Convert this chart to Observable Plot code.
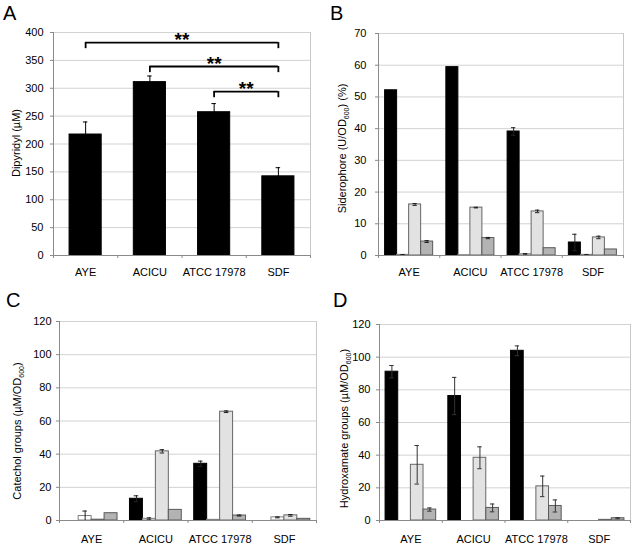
<!DOCTYPE html>
<html>
<head>
<meta charset="utf-8">
<script src="https://cdn.jsdelivr.net/npm/d3@7"></script>
<script src="https://cdn.jsdelivr.net/npm/@observablehq/plot@0.6"></script>
<style>
  body { margin: 0; background: #fff; }
  #fig { position: relative; width: 634px; height: 545px; font-family: "Liberation Sans", Arial, sans-serif; color: #000; }
  .panel { position: absolute; }
  .letter { position: absolute; font-size: 20px; line-height: 1; }
</style>
</head>
<body>
<div id="fig"></div>
<script>
// ---------- data ----------
const categories = ["AYE", "ACICU", "ATCC 17978", "SDF"];
const seriesFill = ["#000000", "#ffffff", "#e2e2e2", "#b3b3b3"];
const seriesStroke = ["#000000", "#808080", "#666666", "#595959"];

// Panel A: dipyridyl
const dipyridyl = [217, 311, 257, 142];
const dipyridylErr = [22.5, 11, 15.5, 15.5];
const dipyridylTicks = [0, 50, 100, 150, 200, 250, 300, 350, 400];
const sigFrom = ["AYE", "ACICU", "ATCC 17978"];
const sigTo = ["SDF", "SDF", "SDF"];
const sigLevel = [382, 339, 294];
const sigLegDrop = 11;
const sigText = ["**", "**", "**"];

// Panel B: siderophore (series x category)
const sideroValues = [
  [52.1, 59.4, 39.1, 4.1],
  [0.2, 0.1, 0.4, 0.2],
  [16.1, 15.1, 13.9, 5.7],
  [4.4, 5.5, 2.3, 1.9]
];
const sideroErrors = [
  [0, 0, 1.2, 2.6],
  [0.1, 0, 0.2, 0.1],
  [0.3, 0.1, 0.4, 0.4],
  [0.3, 0.2, 0, 0]
];
const sideroTicks = [0, 10, 20, 30, 40, 50, 60, 70];

// Panel C: catechol groups
const catecholValues = [
  [0, 13.1, 34.2, 0],
  [2.7, 1.0, 0.4, 1.9],
  [0.5, 41.7, 65.6, 3.1],
  [4.4, 6.4, 3.0, 1.0]
];
const catecholErrors = [
  [0, 1.8, 1.6, 0],
  [3.0, 0.6, 0, 0.3],
  [0, 1.0, 0.5, 0.5],
  [0, 0, 0.3, 0]
];
const catecholTicks = [0, 20, 40, 60, 80, 100, 120];

// Panel D: hydroxamate groups
const hydroxValues = [
  [91.1, 76.2, 103.9, 0],
  [0, 0, 0, 0],
  [34.1, 38.4, 20.9, 0.4],
  [6.7, 7.7, 8.9, 1.4]
];
const hydroxErrors = [
  [3.8, 11.4, 3.0, 0],
  [0, 0, 0, 0],
  [11.8, 6.7, 6.3, 0],
  [1.0, 2.4, 3.7, 0.3]
];
const hydroxTicks = [0, 20, 40, 60, 80, 100, 120];

// ---------- drawing ----------
const FONT = '"Liberation Sans", Arial, sans-serif';

function panel(o) {
  const nS = o.values.length;
  const sub = d3.scaleBand(d3.range(nS), [0, 1]).paddingOuter(o.outerPad).paddingInner(0);
  const rows = [];
  o.values.forEach((arr, s) => arr.forEach((v, c) => rows.push({c, s, v, e: o.errors[s][c]})));
  const x1 = d => d.c + sub(d.s);
  const x2 = d => d.c + sub(d.s) + sub.bandwidth();
  const xc = d => d.c + sub(d.s) + sub.bandwidth() / 2;
  const errRows = rows.filter(d => d.e > 0);
  const cw = 0.035;
  const yMax = o.ticks[o.ticks.length - 1];
  const nC = categories.length;

  const barMarks = d3.range(nS).map(s =>
    Plot.rectY(rows.filter(d => d.s === s && d.v > 0), {
      x1, x2, y1: 0, y2: "v",
      fill: o.fills[s], stroke: o.strokes[s], strokeWidth: 1
    })
  );

  const svg = Plot.plot({
    width: o.width, height: o.height,
    marginLeft: o.ml, marginRight: o.mr, marginTop: o.mt, marginBottom: o.mb,
    style: {fontFamily: FONT, fontSize: "11px", color: "#000", background: "transparent", overflow: "visible"},
    x: {domain: [0, nC], axis: null},
    y: {domain: [0, yMax], axis: null},
    marks: [
      Plot.gridY(o.ticks, {stroke: "#d2d2d2", strokeOpacity: 1}),
      Plot.ruleX([nC], {stroke: "#c8c8c8"}),
      ...barMarks,
      Plot.ruleX(errRows, {x: xc, y1: d => Math.max(0, d.v - d.e), y2: d => d.v + d.e, stroke: o.errColor, strokeWidth: 1}),
      Plot.ruleY(errRows, {y: d => d.v + d.e, x1: d => xc(d) - cw, x2: d => xc(d) + cw, stroke: o.errColor, strokeWidth: 1}),
      Plot.ruleY(errRows.filter(d => d.v - d.e > 0), {y: d => d.v - d.e, x1: d => xc(d) - cw, x2: d => xc(d) + cw, stroke: o.errColor, strokeWidth: 1}),
      Plot.ruleY([0], {stroke: "#8a8a8a"}),
      Plot.ruleX([0], {stroke: "#8a8a8a"}),
      Plot.axisY(o.ticks, {tickSize: 3, tickPadding: o.yPad, stroke: "#8a8a8a", fill: "#000", fontSize: 11, label: null, tickFormat: d3.format("d")}),
      Plot.axisX(d3.range(nC + 1), {tickSize: 3, tickPadding: 0, stroke: "#8a8a8a", tickFormat: () => "", label: null}),
      Plot.axisX(d3.range(nC).map(i => i + 0.5), {tickSize: 0, tickPadding: o.xPad, fill: "#000", fontSize: 11, label: null, tickFormat: d => categories[Math.floor(d)]}),
      Plot.text([o.label], {frameAnchor: "left", textAnchor: "middle", lineAnchor: "middle", rotate: -90, dx: o.labelDx, dy: o.labelDy, fontSize: 11, fill: "#000"}),
      ...(o.extra ? o.extra(sub) : [])
    ]
  });
  subscriptify(svg);
  svg.classList.add("panel");
  svg.style.left = o.left + "px";
  svg.style.top = o.top + "px";
  svg.style.position = "absolute";
  return svg;
}

function subscriptify(svg) {
  const ns = "http://www.w3.org/2000/svg";
  svg.querySelectorAll("text").forEach(t => {
    const s = t.textContent;
    const i = s.indexOf("OD600");
    if (i < 0 || t.querySelector("tspan")) return;
    const before = s.slice(0, i + 2), after = s.slice(i + 5);
    t.textContent = "";
    const a = document.createElementNS(ns, "tspan"); a.textContent = before;
    const b = document.createElementNS(ns, "tspan"); b.textContent = "600";
    b.setAttribute("font-size", "7"); b.setAttribute("dy", "2.5");
    const c = document.createElementNS(ns, "tspan"); c.textContent = after; c.setAttribute("dy", "-2.5");
    t.append(a, b, c);
  });
}

const fig = document.getElementById("fig");
const center = cat => categories.indexOf(cat) + 0.5;
const sigRows = sigFrom.map((f, i) => ({from: f, to: sigTo[i], level: sigLevel[i], text: sigText[i]}));
const sigLegs = sigRows.flatMap(d => [{x: center(d.from), level: d.level}, {x: center(d.to), level: d.level}]);

fig.append(panel({
  left: 0, top: 0, width: 317, height: 285, ml: 53, mr: 7, mt: 32, mb: 30,
  values: [dipyridyl], errors: [dipyridylErr], fills: ["#000000"], strokes: ["#000000"], errColor: "#000",
  outerPad: 0.5, ticks: dipyridylTicks, yPad: 7, xPad: 13,
  label: "Dipyridyl (µM)", labelDx: -37, labelDy: -1,
  extra: () => [
    Plot.ruleY(sigRows, {y: "level", x1: d => center(d.from), x2: d => center(d.to), stroke: "#000", strokeWidth: 1.8}),
    Plot.ruleX(sigLegs, {x: "x", y1: "level", y2: d => d.level - sigLegDrop, stroke: "#000", strokeWidth: 1.8}),
    Plot.text(sigRows, {x: d => (center(d.from) + center(d.to)) / 2, y: "level", text: "text", lineAnchor: "bottom", dy: 3, fontSize: 19, fontWeight: "bold", fill: "#000"})
  ]
}));

fig.append(panel({
  left: 317, top: 0, width: 317, height: 285, ml: 61, mr: 11, mt: 33, mb: 30,
  values: sideroValues, errors: sideroErrors, fills: seriesFill, strokes: seriesStroke, errColor: "#222",
  outerPad: 0.55, ticks: sideroTicks, yPad: 9, xPad: 13,
  label: "Siderophore (U/OD600) (%)", labelDx: -36, labelDy: 4
}));

fig.append(panel({
  left: 0, top: 285, width: 317, height: 260, ml: 59, mr: 1, mt: 36, mb: 25,
  values: catecholValues, errors: catecholErrors, fills: seriesFill, strokes: seriesStroke, errColor: "#222",
  outerPad: 0.48, ticks: catecholTicks, yPad: 5, xPad: 15,
  label: "Catechol groups (µM/OD600)", labelDx: -42, labelDy: 10
}));

fig.append(panel({
  left: 317, top: 285, width: 317, height: 260, ml: 62, mr: 4, mt: 39, mb: 25,
  values: hydroxValues, errors: hydroxErrors, fills: seriesFill, strokes: seriesStroke, errColor: "#333",
  outerPad: 0.48, ticks: hydroxTicks, yPad: 6, xPad: 15,
  label: "Hydroxamate groups (µM/OD600)", labelDx: -35, labelDy: 6
}));

// panel letters
[["A", 3, 3], ["B", 330, 3], ["C", 6, 290], ["D", 333, 290]].forEach(([t, x, y]) => {
  const d = document.createElement("div");
  d.className = "letter";
  d.textContent = t;
  d.style.left = x + "px";
  d.style.top = y + "px";
  fig.append(d);
});
</script>
</body>
</html>
